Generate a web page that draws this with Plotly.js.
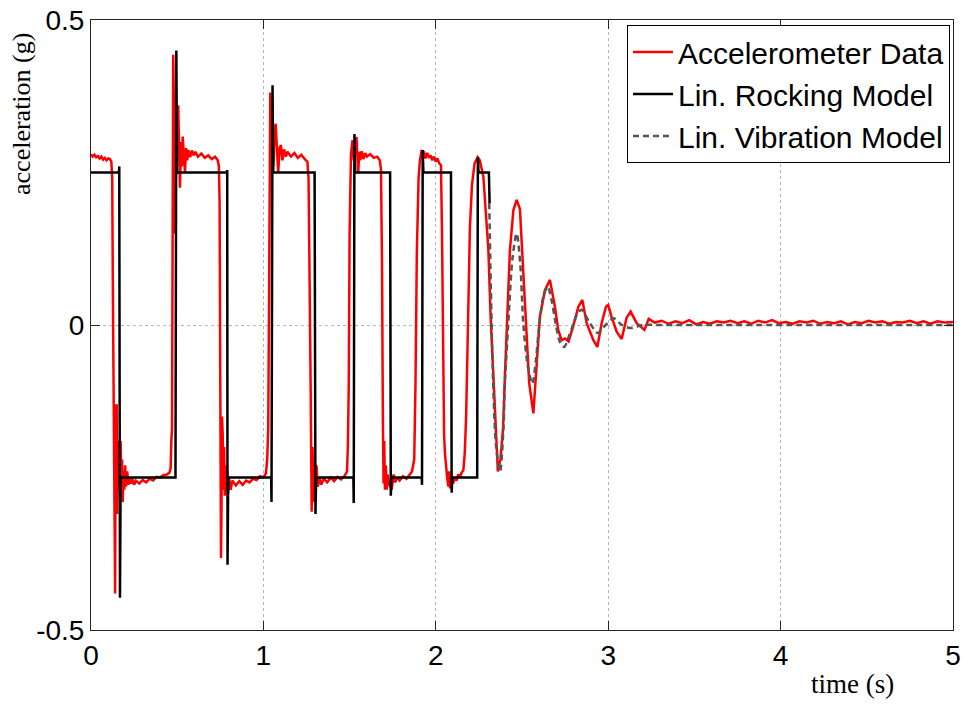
<!DOCTYPE html>
<html>
<head>
<meta charset="utf-8">
<script src="https://cdn.plot.ly/plotly-3.0.1.min.js"></script>
<style>html,body{margin:0;padding:0;background:#fff;}#chart{width:963px;height:704px;}</style>
</head>
<body>
<div id="chart"></div>
<script>
// ---- Accelerometer data (red), in segments ----
var accT0 = [0, 0.01, 0.02, 0.03, 0.04, 0.05, 0.06, 0.07, 0.08, 0.09, 0.10, 0.11, 0.118];
var accA0 = [0.28, 0.276, 0.279, 0.275, 0.277, 0.273, 0.276, 0.271, 0.274, 0.270, 0.273, 0.272, 0.268];

var accT1 = [0.123,0.127,0.131,0.134,0.137,0.140,0.143,0.146,0.149,0.152,0.156,0.160,0.164,0.168,0.172,0.176,0.180,0.184,0.188,0.193,0.198,0.203,0.210,0.217,0.224,0.232,0.240,0.250,0.260,0.280,0.300,0.320,0.340,0.360,0.380,0.400,0.420,0.440,0.455,0.462,0.466];
var accA1 = [0.24,0.05,-0.15,-0.13,-0.44,-0.44,-0.13,-0.30,-0.13,-0.31,-0.20,-0.26,-0.19,-0.27,-0.19,-0.26,-0.22,-0.29,-0.24,-0.27,-0.23,-0.265,-0.24,-0.262,-0.25,-0.26,-0.252,-0.262,-0.255,-0.26,-0.254,-0.258,-0.252,-0.255,-0.249,-0.25,-0.246,-0.245,-0.242,-0.235,-0.19];

var accT2 = [0.470,0.474,0.477,0.480,0.484,0.490,0.500,0.506,0.511,0.516,0.522,0.527,0.532,0.538,0.545,0.552,0.558,0.565,0.575,0.585,0.595,0.605,0.62,0.64,0.66,0.68,0.70,0.72,0.735,0.742];
var accA2 = [-0.17,0.20,0.443,0.38,0.15,0.24,0.33,0.36,0.27,0.225,0.30,0.26,0.309,0.27,0.251,0.29,0.27,0.287,0.275,0.286,0.278,0.284,0.276,0.281,0.274,0.278,0.272,0.276,0.27,0.26];

var accT3 = [0.746,0.750,0.754,0.757,0.760,0.764,0.768,0.772,0.776,0.780,0.785,0.790,0.795,0.800,0.810,0.820,0.840,0.860,0.880,0.900,0.920,0.940,0.960,0.980,1.000,1.015];
var accA3 = [0.20,-0.10,-0.382,-0.30,-0.15,-0.18,-0.27,-0.20,-0.28,-0.23,-0.27,-0.24,-0.275,-0.25,-0.27,-0.255,-0.263,-0.256,-0.262,-0.255,-0.258,-0.252,-0.254,-0.248,-0.25,-0.243];

var accT4 = [1.022,1.028,1.034,1.040,1.046,1.052,1.058,1.064,1.071,1.078,1.086,1.094,1.102,1.11,1.12,1.13,1.14,1.16,1.18,1.20,1.22,1.24,1.255,1.262];
var accA4 = [-0.22,-0.17,0.10,0.381,0.25,0.30,0.26,0.31,0.33,0.28,0.25,0.29,0.295,0.27,0.288,0.276,0.284,0.276,0.282,0.274,0.279,0.272,0.268,0.24];

var accT5 = [1.268,1.274,1.280,1.285,1.290,1.296,1.302,1.308,1.315,1.325,1.335,1.35,1.37,1.39,1.41,1.43,1.45,1.47,1.485];
var accA5 = [0.10,-0.10,-0.306,-0.20,-0.29,-0.218,-0.27,-0.23,-0.265,-0.25,-0.262,-0.252,-0.258,-0.25,-0.256,-0.249,-0.253,-0.248,-0.24];

var accT6 = [1.490,1.495,1.500,1.508,1.517,1.524,1.532,1.540,1.545,1.550,1.556,1.562,1.570,1.580,1.590,1.600,1.620,1.640,1.660,1.675,1.682];
var accA6 = [-0.20,-0.10,0.15,0.28,0.303,0.27,0.30,0.308,0.26,0.249,0.284,0.27,0.285,0.272,0.282,0.276,0.28,0.274,0.276,0.27,0.255];

var accT7 = [1.688,1.693,1.697,1.701,1.705,1.71,1.715,1.72,1.73,1.744,1.755,1.765,1.775,1.79,1.81,1.83,1.85,1.862];
var accA7 = [0.10,-0.15,-0.26,-0.19,-0.27,-0.23,-0.27,-0.245,-0.262,-0.27,-0.245,-0.258,-0.25,-0.255,-0.248,-0.252,-0.245,-0.24];

var accT8 = [1.875,1.882,1.890,1.900,1.908,1.918,1.924,1.930,1.940,1.950,1.960,1.970,1.980,1.990,2.000,2.010,2.020,2.030];
var accA8 = [-0.22,-0.10,0.12,0.24,0.27,0.287,0.272,0.285,0.273,0.282,0.274,0.278,0.27,0.276,0.268,0.273,0.265,0.262];

var accT9 = [2.036,2.042,2.048,2.053,2.060,2.066,2.073,2.078,2.083,2.090,2.10,2.11,2.12,2.13,2.14,2.15,2.16,2.168,2.176,2.184,2.190,2.198,2.21,2.225,2.243];
var accA9 = [0.15,-0.05,-0.18,-0.21,-0.24,-0.25,-0.265,-0.24,-0.268,-0.245,-0.26,-0.25,-0.255,-0.245,-0.25,-0.242,-0.238,-0.21,-0.15,-0.05,0.05,0.161,0.23,0.265,0.275];

var accT10 = [2.255,2.276,2.305,2.318,2.334,2.348,2.36,2.375,2.39,2.40,2.411,2.43,2.45,2.469,2.488,2.507,2.523,2.542,2.566,2.585,2.604,2.633,2.662,2.691,2.71,2.73,2.75,2.77,2.796,2.827,2.85,2.875,2.914,2.937,2.962,2.987,3.0,3.02,3.049,3.078,3.107,3.13,3.165,3.19,3.21,3.235];
var accA10 = [0.27,0.243,0.123,0.014,-0.09,-0.19,-0.24,-0.22,-0.17,-0.09,0.0,0.123,0.188,0.205,0.19,0.096,0.003,-0.096,-0.145,-0.068,0.014,0.057,0.074,0.03,-0.008,-0.025,-0.022,-0.027,-0.003,0.03,0.041,0.003,-0.025,-0.036,0.003,0.03,0.033,0.013,-0.011,-0.023,0.012,0.022,0.003,-0.003,-0.008,0.01];

var accT11 = [3.27,3.31,3.35,3.39,3.43,3.47,3.51,3.55,3.59,3.63,3.67,3.71,3.75,3.79,3.83,3.87,3.91,3.95,3.99,4.03,4.07,4.11,4.15,4.19,4.23,4.27,4.31,4.35,4.39,4.43,4.47,4.51,4.55,4.59,4.63,4.67,4.71,4.75,4.79,4.83,4.87,4.91,4.95,5.0];
var accA11 = [0.004,0.007,0.002,0.006,0.003,0.008,0.001,0.005,0.002,0.006,0.004,0.007,0.003,0.006,0.002,0.007,0.004,0.008,0.003,0.005,0.002,0.006,0.004,0.007,0.002,0.005,0.003,0.006,0.001,0.005,0.003,0.007,0.004,0.006,0.002,0.005,0.004,0.007,0.003,0.006,0.002,0.006,0.004,0.005];

// ---- Linear rocking model (black) ----
var rockT = [0,0.162,0.164,0.168,0.172,0.490,0.495,0.499,0.788,0.790,0.792,0.796,1.045,1.047,1.053,1.057,1.297,1.302,1.306,1.522,1.524,1.528,1.532,1.735,1.739,1.743,1.918,1.920,1.924,1.928,2.088,2.092,2.096,2.240,2.244,2.248,2.308,2.312];
var rockA = [0.25,0.25,0.26,-0.447,-0.25,-0.25,0.45,0.25,0.25,0.254,-0.393,-0.25,-0.25,-0.29,0.393,0.25,0.25,-0.31,-0.25,-0.25,-0.292,0.313,0.25,0.25,-0.28,-0.25,-0.25,-0.262,0.287,0.25,0.25,-0.275,-0.25,-0.25,0.275,0.25,0.25,0.20];

// ---- Linear vibration model (gray dashed) ----
var vibT = [2.310,2.332,2.350,2.373,2.392,2.401,2.420,2.445,2.469,2.490,2.508,2.535,2.560,2.580,2.600,2.625,2.649,2.672,2.697,2.720,2.745,2.770,2.796,2.820,2.846,2.890,2.940,2.985,3.030,3.080,3.130,3.200,3.300,5.0];
var vibA = [0.20,-0.09,-0.20,-0.24,-0.172,-0.095,0.0,0.11,0.150,0.10,0.0,-0.07,-0.096,-0.06,0.0,0.048,0.063,0.04,0.0,-0.028,-0.036,-0.02,0.0,0.018,0.025,0.005,-0.013,0.0,0.011,0.0,-0.005,0.0,0.0,0.0];

// ---- Axis ticks ----
var xTicks = [0, 1, 2, 3, 4, 5];
var xTickText = ['0', '1', '2', '3', '4', '5'];
var yTicks = [-0.5, 0, 0.5];
var yTickText = ['-0.5', '0', '0.5'];
var seriesNames = ['Accelerometer Data', 'Lin. Rocking Model', 'Lin. Vibration Model'];

var accT = [].concat(accT0, accT1, accT2, accT3, accT4, accT5, accT6, accT7, accT8, accT9, accT10, accT11);
var accA = [].concat(accA0, accA1, accA2, accA3, accA4, accA5, accA6, accA7, accA8, accA9, accA10, accA11);

var sans = 'Liberation Sans, Arial, Helvetica, sans-serif';
var serif = 'Liberation Serif, Times New Roman, serif';

var traces = [
  {x: accT, y: accA, type: 'scatter', mode: 'lines', name: seriesNames[0], legendgroup: 'a',
   line: {color: '#ff0000', width: 2.5}},
  {x: rockT, y: rockA, type: 'scatter', mode: 'lines', name: seriesNames[1], legendgroup: 'b',
   line: {color: '#000000', width: 2.5}},
  {x: vibT, y: vibA, type: 'scatter', mode: 'lines', name: seriesNames[2], legendgroup: 'c',
   line: {color: '#555555', width: 2.5, dash: '6px,4px', shape: 'spline', smoothing: 0.8}}
];

var axisCommon = {
  showline: true, mirror: 'ticks', linecolor: '#262626', linewidth: 1,
  ticks: 'inside', ticklen: 9, tickcolor: '#262626', tickwidth: 1,
  showgrid: true, gridcolor: '#b5b5b5', griddash: 'dot', gridwidth: 1,
  zeroline: false, tickfont: {family: sans, size: 28, color: '#000'}
};

var layout = {
  width: 963, height: 704,
  margin: {l: 91, r: 10, t: 20, b: 74},
  paper_bgcolor: '#fff', plot_bgcolor: '#fff',
  showlegend: true,
  xaxis: Object.assign({}, axisCommon, {range: [0, 5], tickmode: 'array', tickvals: xTicks, ticktext: xTickText}),
  yaxis: Object.assign({}, axisCommon, {range: [-0.5, 0.5], tickmode: 'array', tickvals: yTicks, ticktext: yTickText}),
  legend: {
    x: 0.9965, xanchor: 'right', y: 0.992, yanchor: 'top',
    bgcolor: '#fff', bordercolor: '#000', borderwidth: 1,
    font: {family: sans, size: 30, color: '#000'},
    tracegroupgap: 0, itemwidth: 40
  },
  annotations: [
    {text: 'time (s)', xref: 'paper', yref: 'paper', x: 0.883, y: -0.0885,
     xanchor: 'center', yanchor: 'middle', showarrow: false,
     font: {family: serif, size: 27, color: '#000'}},
    {text: 'acceleration (g)', xref: 'paper', yref: 'paper', x: -0.080, y: 0.846,
     xanchor: 'center', yanchor: 'middle', textangle: -90, showarrow: false,
     font: {family: serif, size: 26, color: '#000'}}
  ]
};

Plotly.newPlot('chart', traces, layout, {displayModeBar: false, staticPlot: true});
</script>
</body>
</html>
